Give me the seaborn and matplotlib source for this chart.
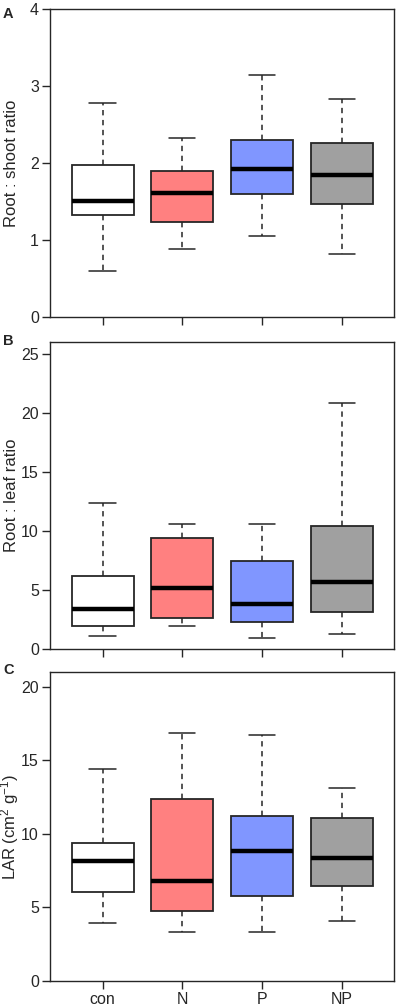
import numpy as np
import pandas as pd
import matplotlib
matplotlib.use("Agg")
import matplotlib.pyplot as plt
import seaborn as sns

sns.set_style("ticks")
plt.rcParams['font.family'] = ['Liberation Sans', 'DejaVu Sans']
plt.rcParams['mathtext.default'] = 'regular'

groups = ["con", "N", "P", "NP"]
colors = ["#FFFFFF", "#FF8080", "#8096FF", "#A0A0A0"]

# five-number summaries (min, Q1, median, Q3, max)
rs_con = [0.59, 1.32, 1.50, 1.97, 2.78]
rs_N = [0.88, 1.23, 1.61, 1.90, 2.32]
rs_P = [1.05, 1.60, 1.92, 2.30, 3.15]
rs_NP = [0.81, 1.47, 1.84, 2.26, 2.83]

rl_con = [1.15, 2.00, 3.38, 6.19, 12.36]
rl_N = [1.94, 2.65, 5.15, 9.37, 10.61]
rl_P = [0.96, 2.28, 3.83, 7.46, 10.61]
rl_NP = [1.27, 3.13, 5.66, 10.42, 20.78]

lar_con = [3.95, 6.05, 8.18, 9.41, 14.43]
lar_N = [3.30, 4.75, 6.80, 12.36, 16.84]
lar_P = [3.32, 5.77, 8.86, 11.23, 16.73]
lar_NP = [4.05, 6.48, 8.34, 11.07, 13.14]

panels = [
    ("A", "Root : shoot ratio", [rs_con, rs_N, rs_P, rs_NP], 4, [0, 1, 2, 3, 4]),
    ("B", "Root : leaf ratio", [rl_con, rl_N, rl_P, rl_NP], 26, [0, 5, 10, 15, 20, 25]),
    ("C", "LAR (cm$^{2}$ g$^{-1}$)", [lar_con, lar_N, lar_P, lar_NP], 21, [0, 5, 10, 15, 20]),
]

W, H = 397, 1005
fig = plt.figure(figsize=(W / 100, H / 100), dpi=100)

# axes boxes in pixels: (top, bottom)
boxes = [(9.3, 316.7), (341.7, 649.3), (672.3, 980.7)]
label_y = [7, 334, 663]
ylab_x = [19, 19, 21]
left, right = 50, 394.3
edge = "#262626"

for (label, ylabel, arrs, ymax, yticks), (top, bot), ly, yx in zip(panels, boxes, label_y, ylab_x):
    ax = fig.add_axes([left / W, 1 - bot / H, (right - left) / W, (bot - top) / H])
    df = pd.DataFrame({
        "group": np.repeat(groups, [len(a) for a in arrs]),
        "value": np.concatenate(arrs),
    })
    sns.boxplot(data=df, x="group", y="value", hue="group", order=groups,
                palette=dict(zip(groups, colors)), legend=False,
                whis=(0, 100), width=0.78, linecolor=edge, linewidth=1.3,
                showfliers=False,
                whiskerprops=dict(linestyle=(0, (3.5, 3)), linewidth=1.1),
                capprops=dict(linewidth=1.1),
                medianprops=dict(color="black", linewidth=3.2),
                saturation=1, ax=ax)
    # narrower caps like the reference
    for cont in ax.containers:
        for cap in getattr(cont, "caps", []):
            xd = np.asarray(cap.get_xdata(), dtype=float)
            c = xd.mean()
            cap.set_xdata([c - 0.165, c + 0.165])
    ax.set_xlim(-0.66, 3.66)
    ax.set_ylim(0, ymax)
    ax.set_yticks(yticks)
    ax.set_ylabel(ylabel, fontsize=12)
    ax.yaxis.set_label_coords((yx - left) / (right - left), 0.5)
    ax.set_xlabel("")
    ax.set_xticks(range(4))
    if label == "C":
        ax.set_xticklabels(groups)
    else:
        ax.set_xticklabels([])
    for s in ax.spines.values():
        s.set_visible(True)
        s.set_linewidth(1.0)
        s.set_color(edge)
    ax.tick_params(axis="both", labelsize=11.5, length=6, width=1, color=edge, pad=2)
    ax.text(3 / W, 1 - ly / H, label, transform=fig.transFigure,
            fontsize=10.5, fontweight="bold", va="top", ha="left")

fig.savefig("out.png", dpi=100)
